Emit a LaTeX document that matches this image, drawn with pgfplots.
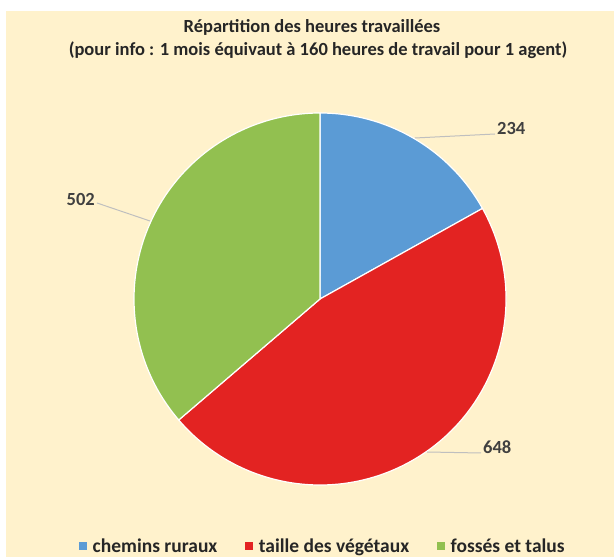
\documentclass[border=0pt]{standalone}
\usepackage{fontspec}
\setmainfont{Carlito}
\usepackage{pgfplots}
\pgfplotsset{compat=1.18}
\definecolor{cream}{HTML}{FFF2CC}
\definecolor{cblue}{HTML}{5B9BD5}
\definecolor{cred}{HTML}{E32322}
\definecolor{cgreen}{HTML}{92C050}
\definecolor{txt}{HTML}{404040}
\definecolor{lead}{HTML}{BFBFBF}
% values
\def\vA{234}\def\vB{648}\def\vC{502}
\begin{document}
\begin{tikzpicture}
\pgfmathsetmacro\tot{\vA+\vB+\vC}
\pgfmathsetmacro\aA{90}
\pgfmathsetmacro\aB{90-\vA/\tot*360}
\pgfmathsetmacro\aC{\aB-\vB/\tot*360}
\pgfmathsetmacro\aD{\aC-\vC/\tot*360}
\begin{axis}[
  width=614pt, height=557pt, scale only axis,
  xmin=0, xmax=614, ymin=0, ymax=557,
  hide axis, clip=false,
  legend columns=3,
  legend style={draw=none, fill=none, at={(axis cs:323,11)}, anchor=center,
    font=\bfseries\fontsize{19.5}{21}\selectfont, text=black!85,
    /tikz/every even column/.append style={column sep=26pt},
    nodes={inner sep=2pt}},
  legend image code/.code={\fill[#1] (0pt,-3.5pt) rectangle (7pt,3.5pt); \path (11pt,0pt);},
]
\fill[white] (axis cs:0,0) rectangle (axis cs:614,557);
\fill[cream] (axis cs:6,0) rectangle (axis cs:614,546);
\addlegendimage{cblue}\addlegendentry{chemins ruraux}
\addlegendimage{cred}\addlegendentry{taille des végétaux}
\addlegendimage{cgreen}\addlegendentry{fossés et talus}
\node[font=\bfseries\fontsize{18.5}{21}\selectfont, text=black!85] at (axis cs:312,530) {Répartition des heures travaillées};
\node[font=\bfseries\fontsize{18.5}{21}\selectfont, text=black!85] at (axis cs:318,507) {(pour info : 1 mois équivaut à 160 heures de travail pour 1 agent)};
\fill[cblue, draw=white, line width=1.2pt] (axis cs:320,258) -- ++(\aA:186pt) arc[start angle=\aA, end angle=\aB, radius=186pt] -- cycle;
\fill[cred, draw=white, line width=1.2pt] (axis cs:320,258) -- ++(\aB:186pt) arc[start angle=\aB, end angle=\aC, radius=186pt] -- cycle;
\fill[cgreen, draw=white, line width=1.2pt] (axis cs:320,258) -- ++(\aC:186pt) arc[start angle=\aC, end angle=\aD, radius=186pt] -- cycle;
\draw[lead, line width=1pt] (axis cs:415,419) -- (axis cs:495,423);
\draw[lead, line width=1pt] (axis cs:150,336) -- (axis cs:97,354);
\draw[lead, line width=1pt] (axis cs:427,105) -- (axis cs:481,104);
\node[anchor=west, inner sep=1pt, font=\bfseries\fontsize{18.5}{21}\selectfont, text=txt] at (axis cs:496,428) {\vA};
\node[anchor=east, inner sep=1pt, font=\bfseries\fontsize{18.5}{21}\selectfont, text=txt] at (axis cs:96,357) {\vC};
\node[anchor=west, inner sep=1pt, font=\bfseries\fontsize{18.5}{21}\selectfont, text=txt] at (axis cs:482,110) {\vB};
\end{axis}
\pgfresetboundingbox
\path (current axis.south west) rectangle (current axis.north east);
\end{tikzpicture}
\end{document}
